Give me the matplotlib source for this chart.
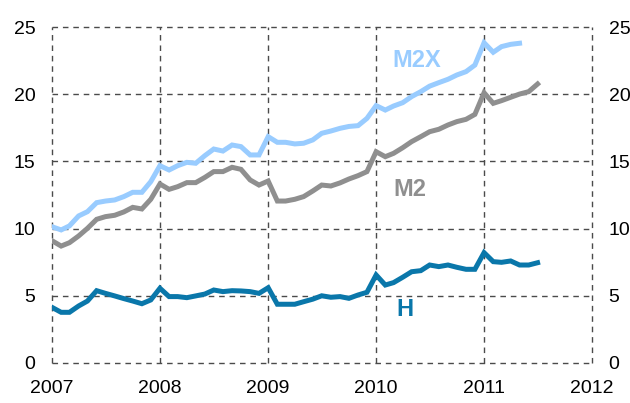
import matplotlib
matplotlib.use("Agg")
import matplotlib.pyplot as plt
import pandas as pd

plt.rcParams['font.family'] = ['Liberation Sans', 'DejaVu Sans']

m2x = [10.14, 9.9, 10.2, 10.94, 11.26, 11.93, 12.05, 12.13, 12.38, 12.7, 12.7, 13.49,
       14.68, 14.36, 14.68, 14.93, 14.86, 15.43, 15.92, 15.77, 16.22, 16.1, 15.48, 15.48,
       16.84, 16.42, 16.42, 16.3, 16.35, 16.6, 17.09, 17.26, 17.46, 17.6, 17.66, 18.2,
       19.15, 18.82, 19.12, 19.37, 19.82, 20.19, 20.6, 20.86, 21.11, 21.43, 21.68, 22.17,
       23.83, 23.12, 23.54, 23.71, 23.79]
m2 = [9.1, 8.7, 8.95, 9.45, 10.02, 10.69, 10.89, 10.99, 11.24, 11.58, 11.46, 12.18,
      13.32, 12.92, 13.12, 13.42, 13.42, 13.81, 14.24, 14.24, 14.56, 14.41, 13.62, 13.24,
      13.54, 12.05, 12.05, 12.18, 12.38, 12.8, 13.24, 13.17, 13.4, 13.69, 13.94, 14.24,
      15.72, 15.35, 15.6, 16.02, 16.47, 16.84, 17.21, 17.39, 17.71, 17.96, 18.13, 18.5,
      20.11, 19.32, 19.52, 19.77, 20.01, 20.19, 20.76]
h = [4.14, 3.77, 3.77, 4.24, 4.61, 5.38, 5.18, 4.99, 4.79, 4.61, 4.41, 4.69,
     5.56, 4.94, 4.94, 4.86, 4.99, 5.13, 5.43, 5.31, 5.38, 5.36, 5.31, 5.18,
     5.6, 4.37, 4.37, 4.37, 4.56, 4.75, 5.0, 4.89, 4.94, 4.81, 5.06, 5.26,
     6.55, 5.8, 5.98, 6.38, 6.79, 6.87, 7.29, 7.17, 7.29, 7.12, 6.97, 6.97,
     8.21, 7.54, 7.49, 7.59, 7.29, 7.29, 7.46]
years = [2007, 2008, 2009, 2010, 2011, 2012]
yticks = [0, 5, 10, 15, 20, 25]

c_m2x = '#99CCFF'
c_m2 = '#8F8F8F'
c_h = '#0A77AA'

fig = plt.figure(figsize=(6.3, 4.03), dpi=100)
ax = fig.add_axes([0.0825, 0.0993, 0.8572, 0.8337])

def dates(n):
    return pd.date_range('2007-01-01', periods=n, freq='MS')

ax.plot(dates(len(m2x)), m2x, color=c_m2x, lw=3.6, solid_joinstyle='miter', zorder=3)
ax.plot(dates(len(m2)), m2, color=c_m2, lw=3.6, solid_joinstyle='miter', zorder=3)
ax.plot(dates(len(h)), h, color=c_h, lw=3.6, solid_joinstyle='miter', zorder=3)

ax.set_xlim(pd.Timestamp('2007-01-01'), pd.Timestamp('2012-01-01'))
ax.set_ylim(0, 25)
ax.set_xticks([pd.Timestamp(f'{y}-01-01') for y in years])
ax.set_xticklabels([str(y) for y in years])
ax.set_yticks(yticks)
ax.set_yticklabels([str(v) for v in yticks])

for s in ax.spines.values():
    s.set_visible(False)
ax.tick_params(axis='both', length=0, labelsize=14)
ax.tick_params(axis='y', labelright=True, pad=12)
ax.tick_params(axis='x', pad=12)

ax.grid(True, linestyle=(0, (4, 3.5)), color='#4a4a4a', lw=1.0, zorder=1)
for ln in ax.get_xgridlines() + ax.get_ygridlines():
    ln.set_clip_on(False)

ax.text(pd.Timestamp('2010-05-20'), 22.5, 'M2X', color=c_m2x, fontsize=17,
        fontweight='bold', ha='center', va='center')
ax.text(pd.Timestamp('2010-04-25'), 12.9, 'M2', color=c_m2, fontsize=17,
        fontweight='bold', ha='center', va='center')
ax.text(pd.Timestamp('2010-04-10'), 3.95, 'H', color=c_h, fontsize=17,
        fontweight='bold', ha='center', va='center')

fig.savefig('out.png', dpi=100)
